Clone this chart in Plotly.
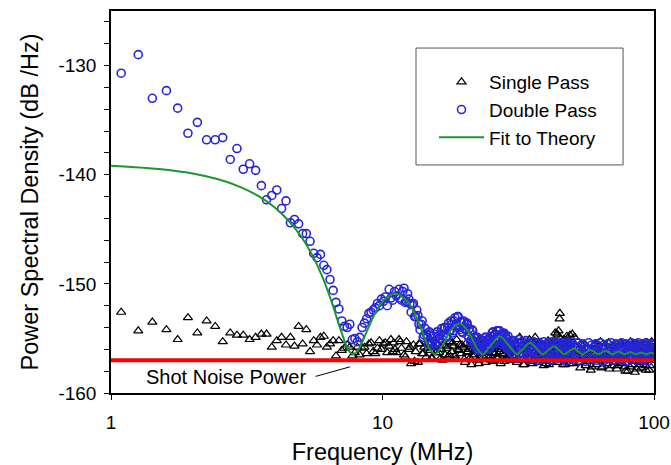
import math
import plotly.graph_objects as go

# ---------------- data ----------------
# Double pass (circles)
dp_freq_low = [1.09, 1.26, 1.42, 1.60, 1.76, 1.92, 2.08, 2.25, 2.42, 2.58,
               2.75, 2.91, 3.07, 3.24, 3.41, 3.58, 3.74, 3.91, 4.08, 4.25,
               4.41, 4.58, 4.74, 4.91, 5.08, 5.24, 5.41, 5.58, 5.74, 5.91,
               6.08, 6.24, 6.41, 6.58, 6.74, 6.91, 7.08, 7.24, 7.41, 7.58,
               7.74, 7.91, 8.08, 8.24, 8.41, 8.58, 8.74, 8.91, 9.08, 9.24,
               9.41, 9.58, 9.74, 9.91, 10.08, 10.24, 10.41, 10.58, 10.74, 10.91,
               11.08, 11.24]
dp_val_low = [-130.7, -129.0, -133.0, -132.3, -133.9, -136.2, -135.2, -136.8, -136.8, -136.6,
              -138.6, -137.6, -139.5, -139.0, -139.6, -141.0, -142.3, -141.9, -141.4, -143.1,
              -142.4, -144.4, -144.1, -144.5, -145.4, -145.4, -146.1, -147.2, -147.6, -147.3,
              -148.3, -148.7, -149.6, -150.6, -151.7, -152.3, -153.4, -153.9, -154.0, -153.7,
              -155.1, -155.0, -155.3, -154.9, -154.0, -153.6, -153.2, -152.7, -152.6, -152.4,
              -152.2, -151.8, -152.0, -151.4, -151.6, -151.2, -152.0, -150.5, -151.3, -151.5,
              -150.7, -151.1]

dp_freq_mid = [11.5, 11.75, 12.0, 12.25, 12.5, 12.75, 13.0, 13.25, 13.5, 13.75,
               14.0, 14.25, 14.5, 14.75, 15.0, 15.25, 15.5, 15.75, 16.0, 16.25,
               16.5, 16.75, 17.0, 17.25, 17.5, 17.75, 18.0, 18.25, 18.5, 18.75,
               19.0, 19.25, 19.5, 19.75, 20.0, 20.25, 20.5, 20.75, 21.0, 21.25,
               21.5, 21.75, 22.0, 22.25, 22.5, 22.75, 23.0, 23.25, 23.5, 23.75,
               24.0, 24.25, 24.5, 24.75, 25.0, 25.25, 25.5, 25.75, 26.0, 26.25,
               26.5, 26.75, 27.0, 27.25, 27.5, 27.75, 28.0, 28.25, 28.5, 28.75,
               29.0, 29.25, 29.5, 29.75, 30.0]
dp_val_mid = [-150.5, -151.5, -150.4, -151.6, -151.4, -152.6, -151.8, -153.0, -152.9, -154.2,
              -153.4, -154.7, -154.6, -155.5, -154.6, -155.4, -154.6, -155.7, -154.8, -155.4,
              -154.1, -154.7, -154.0, -154.9, -153.6, -154.3, -153.7, -154.3, -153.1, -153.9,
              -153.0, -154.2, -153.5, -154.5, -153.5, -154.2, -153.6, -154.9, -154.4, -155.1,
              -154.3, -155.6, -154.9, -156.0, -155.3, -155.9, -155.1, -156.2, -155.2, -155.8,
              -154.9, -155.9, -155.2, -155.9, -154.8, -155.4, -154.4, -155.5, -154.6, -155.1,
              -154.3, -155.2, -154.3, -155.5, -154.7, -155.1, -154.5, -155.7, -154.9, -155.7,
              -154.8, -156.0, -155.4, -156.3, -155.3]

dp_freq_mid2 = [11.625, 11.875, 12.125, 12.375, 12.625, 12.875, 13.125, 13.375, 13.625, 13.875,
                14.125, 14.375, 14.625, 14.875, 15.125, 15.375, 15.625, 15.875, 16.125, 16.375,
                16.625, 16.875, 17.125, 17.375, 17.625, 17.875, 18.125, 18.375, 18.625, 18.875,
                19.125, 19.375, 19.625, 19.875, 20.125, 20.375, 20.625, 20.875, 21.125, 21.375,
                21.625, 21.875, 22.125, 22.375, 22.625, 22.875, 23.125, 23.375, 23.625, 23.875,
                24.125, 24.375, 24.625, 24.875, 25.125, 25.375, 25.625, 25.875, 26.125, 26.375,
                26.625, 26.875, 27.125, 27.375, 27.625, 27.875, 28.125, 28.375, 28.625, 28.875,
                29.125, 29.375, 29.625, 29.875]
dp_val_mid2 = [-151.3, -150.7, -151.7, -150.9, -151.8, -151.9, -153.0, -152.4, -153.7, -153.7,
               -154.9, -154.1, -154.9, -154.4, -155.6, -154.8, -155.5, -154.4, -155.0, -154.6,
               -155.1, -154.0, -154.8, -154.0, -154.3, -153.4, -154.5, -153.4, -153.8, -153.0,
               -154.0, -153.5, -154.4, -153.4, -154.1, -153.7, -154.7, -154.1, -155.3, -154.2,
               -155.2, -155.0, -155.7, -154.9, -156.1, -155.4, -155.9, -155.2, -156.1, -154.9,
               -155.6, -155.1, -156.0, -155.0, -155.5, -154.5, -155.5, -154.7, -155.0, -154.3,
               -155.2, -154.3, -155.0, -154.6, -155.6, -154.6, -155.2, -154.7, -155.9, -155.1,
               -155.9, -155.5, -156.1, -155.5]

dp_freq_high1 = [30.25, 30.5, 30.75, 31.0, 31.25, 31.5, 31.75, 32.0, 32.25, 32.5,
                 32.75, 33.0, 33.25, 33.5, 33.75, 34.0, 34.25, 34.5, 34.75, 35.0,
                 35.25, 35.5, 35.75, 36.0, 36.25, 36.5, 36.75, 37.0, 37.25, 37.5,
                 37.75, 38.0, 38.25, 38.5, 38.75, 39.0, 39.25, 39.5, 39.75, 40.0,
                 40.25, 40.5, 40.75, 41.0, 41.25, 41.5, 41.75, 42.0, 42.25, 42.5,
                 42.75, 43.0, 43.25, 43.5, 43.75, 44.0, 44.25, 44.5, 44.75, 45.0,
                 45.25, 45.5, 45.75, 46.0, 46.25, 46.5, 46.75, 47.0, 47.25, 47.5,
                 47.75, 48.0, 48.25, 48.5, 48.75, 49.0, 49.25, 49.5, 49.75, 50.0]
dp_val_high1 = [-155.2, -156.5, -155.7, -156.8, -155.4, -156.1, -155.1, -156.6, -155.8, -156.3,
                -155.3, -156.7, -155.6, -156.0, -155.2, -156.4, -155.5, -156.9, -155.9, -155.4,
                -156.6, -155.7, -156.2, -155.3, -156.8, -155.6, -156.4, -155.5, -157.0, -156.0,
                -155.4, -156.5, -155.8, -156.9, -155.6, -156.2, -155.3, -156.7, -155.9, -156.4,
                -155.5, -156.8, -155.7, -156.3, -155.4, -157.0, -155.9, -156.5, -155.3, -156.6,
                -155.8, -156.2, -155.5, -156.9, -155.6, -156.4, -155.3, -156.7, -156.0, -155.5,
                -156.8, -155.7, -156.3, -155.4, -156.9, -155.8, -156.5, -155.6, -157.1, -156.1,
                -155.4, -156.6, -155.7, -156.2, -155.5, -156.8, -155.9, -156.4, -155.3, -156.7]

dp_freq_high2 = [50.5, 51.0, 51.5, 52.0, 52.5, 53.0, 53.5, 54.0, 54.5, 55.0,
                 55.5, 56.0, 56.5, 57.0, 57.5, 58.0, 58.5, 59.0, 59.5, 60.0,
                 60.5, 61.0, 61.5, 62.0, 62.5, 63.0, 63.5, 64.0, 64.5, 65.0,
                 65.5, 66.0, 66.5, 67.0, 67.5, 68.0, 68.5, 69.0, 69.5, 70.0,
                 70.5, 71.0, 71.5, 72.0, 72.5, 73.0, 73.5, 74.0, 74.5, 75.0,
                 75.5, 76.0, 76.5, 77.0, 77.5, 78.0, 78.5, 79.0, 79.5, 80.0,
                 80.5, 81.0, 81.5, 82.0, 82.5, 83.0, 83.5, 84.0, 84.5, 85.0,
                 85.5, 86.0, 86.5, 87.0, 87.5, 88.0, 88.5, 89.0, 89.5, 90.0,
                 90.5, 91.0, 91.5, 92.0, 92.5, 93.0, 93.5, 94.0, 94.5, 95.0,
                 95.5, 96.0, 96.5, 97.0, 97.5, 98.0, 98.5, 99.0, 99.5, 100.0]
dp_val_high2 = [-155.6, -156.9, -155.8, -156.4, -155.4, -157.0, -156.0, -156.6, -155.5, -156.3,
                -155.7, -157.1, -155.9, -156.5, -155.4, -156.8, -156.1, -155.6, -156.9, -155.8,
                -156.4, -155.5, -157.0, -156.2, -155.7, -156.7, -155.4, -156.3, -155.9, -157.1,
                -155.6, -156.5, -155.8, -156.9, -155.5, -156.2, -156.0, -156.8, -155.4, -156.6,
                -155.7, -157.0, -155.9, -156.4, -155.5, -156.8, -156.1, -155.6, -156.9, -155.8,
                -156.5, -155.4, -157.0, -156.0, -155.7, -156.7, -155.5, -156.3, -155.9, -157.1,
                -155.6, -156.6, -155.8, -156.9, -155.4, -156.2, -156.0, -156.8, -155.5, -156.5,
                -155.7, -157.0, -155.9, -156.4, -155.4, -156.8, -156.1, -155.6, -156.9, -155.8,
                -156.3, -155.5, -157.0, -156.2, -155.7, -156.6, -155.4, -156.4, -155.9, -157.1,
                -155.6, -156.5, -155.8, -156.8, -155.5, -156.3, -156.0, -156.7, -155.6, -156.4]

# Single pass (triangles)
sp_freq_low = [1.09, 1.26, 1.42, 1.60, 1.76, 1.92, 2.08, 2.25, 2.42, 2.58,
               2.75, 2.91, 3.07, 3.24, 3.41, 3.58, 3.74, 3.91, 4.08, 4.25,
               4.41, 4.58, 4.74, 4.91, 5.08, 5.24, 5.41, 5.58, 5.74, 5.91,
               6.08, 6.24, 6.41, 6.58, 6.74, 6.91, 7.08, 7.24, 7.41, 7.58,
               7.74, 7.91, 8.08, 8.24, 8.41, 8.58, 8.74, 8.91, 9.08, 9.24,
               9.41, 9.58, 9.74, 9.91, 10.08, 10.24, 10.41, 10.58, 10.74, 10.91]
sp_val_low = [-152.6, -154.3, -153.5, -154.2, -155.1, -153.1, -154.5, -153.4, -153.9, -155.3,
              -154.5, -154.7, -154.7, -155.1, -154.9, -154.6, -154.6, -155.8, -155.2, -154.9,
              -155.6, -154.9, -155.7, -153.9, -155.5, -154.2, -156.2, -155.2, -155.6, -154.9,
              -154.8, -155.8, -155.5, -155.2, -156.6, -155.2, -156.1, -155.9, -155.6, -155.8,
              -156.6, -156.3, -155.8, -156.5, -155.9, -155.8, -156.4, -155.5, -155.4, -156.2,
              -156.4, -155.9, -155.2, -156.0, -155.5, -155.4, -156.3, -155.7, -155.1, -156.2]

sp_freq_mid = [11.0, 11.25, 11.5, 11.75, 12.0, 12.25, 12.5, 12.75, 13.0, 13.25,
               13.5, 13.75, 14.0, 14.25, 14.5, 14.75, 15.0, 15.25, 15.5, 15.75,
               16.0, 16.25, 16.5, 16.75, 17.0, 17.25, 17.5, 17.75, 18.0, 18.25,
               18.5, 18.75, 19.0, 19.25, 19.5, 19.75, 20.0, 20.25, 20.5, 20.75,
               21.0, 21.25, 21.5, 21.75, 22.0, 22.25, 22.5, 22.75, 23.0, 23.25,
               23.5, 23.75, 24.0, 24.25, 24.5, 24.75, 25.0, 25.25, 25.5, 25.75,
               26.0, 26.25, 26.5, 26.75, 27.0, 27.25, 27.5, 27.75, 28.0, 28.25,
               28.5, 28.75, 29.0, 29.25, 29.5, 29.75, 30.0]
sp_val_mid = [-155.4, -156.3, -155.1, -155.9, -156.5, -155.3, -156.0, -157.3, -155.6, -156.2,
              -157.2, -155.5, -156.4, -155.8, -156.7, -155.4, -156.1, -156.8, -155.7, -156.3,
              -155.5, -156.9, -156.0, -155.6, -156.5, -155.9, -156.7, -155.3, -156.2, -155.7,
              -156.6, -155.1, -156.0, -155.6, -156.4, -155.8, -156.9, -155.5, -156.3, -156.0,
              -156.8, -157.4, -155.9, -156.5, -155.6, -156.2, -157.0, -155.8, -156.4, -155.5,
              -156.7, -156.1, -157.2, -155.9, -156.3, -155.4, -156.6, -156.0, -157.1, -155.7,
              -156.4, -155.8, -156.9, -155.5, -156.2, -157.3, -156.0, -155.6, -156.5, -155.9,
              -156.8, -156.1, -155.4, -156.6, -157.0, -155.8, -156.3]

sp_freq_mid2 = [11.125, 11.625, 12.125, 12.625, 13.125, 13.625, 14.125, 14.625, 15.125, 15.625,
                16.125, 16.625, 17.125, 17.625, 18.125, 18.625, 19.125, 19.625, 20.125, 20.625,
                21.125, 21.625, 22.125, 22.625, 23.125, 23.625, 24.125, 24.625, 25.125, 25.625,
                26.125, 26.625, 27.125, 27.625, 28.125, 28.625, 29.125, 29.625]
sp_val_mid2 = [-156.0, -155.3, -156.7, -155.8, -157.1, -155.5, -156.4, -155.9, -156.8, -155.2,
               -156.3, -157.0, -155.7, -156.5, -155.4, -156.9, -156.1, -155.6, -157.2, -156.2,
               -155.5, -156.7, -155.9, -157.3, -156.0, -155.4, -156.6, -155.8, -157.0, -156.3,
               -155.6, -156.8, -155.3, -156.4, -157.1, -155.9, -156.5, -155.7]

sp_freq_high = [30.5, 31.0, 31.5, 32.0, 32.5, 33.0, 33.5, 34.0, 34.5, 35.0,
                35.5, 36.0, 36.5, 37.0, 37.5, 38.0, 38.5, 39.0, 39.5, 40.0,
                40.5, 41.0, 41.5, 42.0, 42.5, 43.0, 43.5, 44.0, 44.5, 44.9,
                45.0, 45.5, 46.0, 46.5, 47.0, 47.5, 48.0, 48.5, 49.0, 49.5,
                50.0, 51, 52, 53, 54, 55, 56, 57, 58, 59,
                60, 61, 62, 63, 64, 65, 66, 67, 68, 69,
                70, 71, 72, 73, 74, 75, 76, 77, 78, 79,
                80, 81, 82, 83, 84, 85, 86, 87, 88, 89,
                90, 91, 92, 93, 94, 95, 96, 97, 98, 99, 100]
sp_val_high = [-156.2, -157.0, -155.6, -154.9, -156.5, -157.4, -156.0, -155.5, -156.8, -156.3,
               -157.1, -155.4, -154.9, -156.6, -157.2, -156.0, -155.7, -156.9, -156.3, -157.3,
               -155.8, -157.4, -156.4, -155.6, -156.7, -155.2, -156.1, -154.6, -154.3, -153.2,
               -152.7, -155.4, -156.5, -155.1, -157.4, -156.2, -155.5, -156.8, -154.7, -156.0,
               -154.6, -154.9, -156.7, -157.2, -155.6, -156.3, -157.5, -155.9, -156.8, -157.6,
               -156.1, -155.5, -157.0, -156.4, -157.7, -155.8, -156.6, -157.3, -155.4, -156.9,
               -157.5, -156.2, -155.7, -157.8, -156.5, -157.1, -155.6, -156.8, -157.6, -156.0,
               -158.0, -156.7, -155.3, -157.4, -156.3, -158.1, -156.9, -155.5, -157.2, -156.5,
               -157.7, -155.9, -156.8, -157.5, -155.4, -156.6, -157.9, -156.1, -155.3, -157.0, -156.4]

sp_freq_high2 = [30.25, 30.75, 31.25, 31.75, 32.25, 32.75, 33.25, 33.75, 34.25, 34.75,
                 35.25, 35.75, 36.25, 36.75, 37.25, 37.75, 38.25, 38.75, 39.25, 39.75,
                 40.25, 40.75, 41.25, 41.75, 42.25, 42.75, 43.25, 43.75, 44.25, 44.75,
                 45.25, 45.75, 46.25, 46.75, 47.25, 47.75, 48.25, 48.75, 49.25, 49.75,
                 50.5, 51.5, 52.5, 53.5, 54.5, 55.5, 56.5, 57.5, 58.5, 59.5,
                 60.5, 61.5, 62.5, 63.5, 64.5, 65.5, 66.5, 67.5, 68.5, 69.5,
                 70.5, 71.5, 72.5, 73.5, 74.5, 75.5, 76.5, 77.5, 78.5, 79.5,
                 80.5, 81.5, 82.5, 83.5, 84.5, 85.5, 86.5, 87.5, 88.5, 89.5,
                 90.5, 91.5, 92.5, 93.5, 94.5, 95.5, 96.5, 97.5, 98.5, 99.5]
sp_val_high2 = [-156.6, -155.5, -157.2, -156.0, -155.3, -156.9, -157.4, -155.8, -156.4, -155.1,
                -156.7, -157.3, -156.1, -155.6, -157.0, -156.3, -155.4, -156.8, -157.5, -155.9,
                -156.5, -155.2, -157.1, -156.2, -155.7, -156.9, -154.5, -155.8, -157.2, -156.4,
                -155.0, -156.6, -157.4, -155.5, -156.1, -154.8, -156.9, -157.3, -155.6, -156.2,
                -157.3, -155.8, -156.9, -157.7, -156.2, -155.5, -157.1, -156.6, -157.9, -156.0,
                -155.6, -157.4, -156.8, -155.3, -157.6, -156.4, -157.0, -155.9, -157.8, -156.5,
                -155.7, -157.2, -156.1, -157.5, -156.9, -155.4, -157.3, -156.6, -158.0, -156.2,
                -155.8, -157.6, -156.7, -157.1, -155.5, -156.3, -157.8, -156.0, -157.4, -156.8,
                -155.6, -157.2, -156.5, -157.9, -156.1, -155.9, -157.5, -156.7, -157.0, -156.3]

# Fit to theory (green curve)
fit_freq = [1.0, 1.5, 2.0, 2.5, 3.0, 3.5, 4.0, 4.5, 5.0, 5.5,
            6.0, 6.5, 7.0, 7.4, 7.6, 7.8, 8.2, 8.58, 9.36, 10.14,
            11.15, 12.48, 13.65, 14.82, 15.6, 16.77, 17.94, 19.19, 20.67, 22.23,
            23.4, 24.96, 27.07, 29.25, 31.2, 32.76, 34.94, 37.05, 39.0, 40.95,
            42.9, 44.85, 46.8, 48.75, 50.7, 52.65, 54.6, 56.55, 58.5, 60.45,
            62.4, 64.35, 66.3, 68.25, 70.2, 72.15, 74.1, 76.05, 78.0, 79.95,
            81.9, 83.85, 85.8, 87.75, 89.7, 91.65, 93.6, 95.55, 97.5, 100.0]
fit_val = [-139.18, -139.48, -139.89, -140.44, -141.13, -141.97, -142.98, -144.19, -145.62, -147.32,
           -149.33, -151.66, -154.16, -155.81, -156.29, -156.46, -155.93, -154.87, -152.76, -151.45,
           -150.88, -151.72, -153.64, -155.86, -156.46, -155.49, -154.17, -153.64, -154.33, -155.88,
           -156.46, -155.71, -154.81, -155.67, -156.46, -156.01, -155.39, -155.95, -156.46, -156.04,
           -155.72, -156.11, -156.46, -156.16, -155.92, -156.20, -156.46, -156.23, -156.05, -156.26,
           -156.46, -156.29, -156.14, -156.29, -156.46, -156.33, -156.20, -156.33, -156.46, -156.35,
           -156.24, -156.35, -156.46, -156.37, -156.28, -156.37, -156.46, -156.38, -156.31, -156.42]

# Shot noise level (red line)
shot_freq = [1, 100]
shot_val = [-157.0, -157.0]

y_ticks = [-160, -150, -140, -130]
y_ticktext = ["-160", "-150", "-140", "-130"]
x_ticks = [1, 10, 100]
x_ticktext = ["1", "10", "100"]

for a, b in [(dp_freq_low, dp_val_low), (dp_freq_mid, dp_val_mid), (dp_freq_mid2, dp_val_mid2),
             (dp_freq_high1, dp_val_high1), (dp_freq_high2, dp_val_high2),
             (sp_freq_low, sp_val_low), (sp_freq_mid, sp_val_mid), (sp_freq_mid2, sp_val_mid2),
             (sp_freq_high, sp_val_high), (sp_freq_high2, sp_val_high2),
             (fit_freq, fit_val)]:
    assert len(a) == len(b), (len(a), len(b))

dp_freq = dp_freq_low + dp_freq_mid + dp_freq_mid2 + dp_freq_high1 + dp_freq_high2
dp_val = dp_val_low + dp_val_mid + dp_val_mid2 + dp_val_high1 + dp_val_high2
sp_freq = sp_freq_low + sp_freq_mid + sp_freq_mid2 + sp_freq_high + sp_freq_high2
sp_val = sp_val_low + sp_val_mid + sp_val_mid2 + sp_val_high + sp_val_high2

FONT = "Liberation Sans, Arial, sans-serif"

fig = go.Figure()
fig.add_trace(go.Scatter(
    x=sp_freq, y=sp_val, mode="markers", name="Single Pass",
    marker=dict(symbol="triangle-up-open", size=8, color="black", line=dict(width=1.2))))
fig.add_trace(go.Scatter(
    x=dp_freq, y=dp_val, mode="markers", name="Double Pass",
    marker=dict(symbol="circle-open", size=8, color="#2626d6", line=dict(width=1.6))))
fig.add_trace(go.Scatter(
    x=fit_freq, y=fit_val, mode="lines", name="Fit to Theory",
    line=dict(color="#1e962e", width=2, shape="spline", smoothing=0.8)))
fig.add_trace(go.Scatter(
    x=shot_freq, y=shot_val, mode="lines", showlegend=False, hoverinfo="skip",
    line=dict(color="#ff0000", width=4)))

fig.add_annotation(x=math.log10(2.66), y=-158.55, text="Shot Noise Power", showarrow=False,
                   font=dict(family=FONT, size=20, color="black"))
fig.add_annotation(x=math.log10(7.6), y=-157.6, text="", showarrow=True, arrowhead=0,
                   arrowwidth=1, arrowcolor="black", ax=-36, ay=10, standoff=0, startstandoff=0)

fig.add_shape(type="rect", xref="paper", yref="paper", x0=0.5617, x1=0.943, y0=0.597, y1=0.903,
              line=dict(color="#555555", width=1), fillcolor="rgba(0,0,0,0)")

fig.update_layout(
    width=671, height=465,
    margin=dict(l=111, r=17, t=11, b=72),
    paper_bgcolor="white", plot_bgcolor="white",
    font=dict(family=FONT, size=18, color="black"),
    showlegend=True,
    legend=dict(x=(434 - 111) / 543, y=(393 - 63) / 382, xanchor="left", yanchor="top",
                bgcolor="rgba(0,0,0,0)", borderwidth=0, font=dict(family=FONT, size=19),
                itemwidth=45, tracegroupgap=0),
    xaxis=dict(type="log", range=[0, 2], tickvals=x_ticks, ticktext=x_ticktext,
               ticks="outside", ticklen=5, tickwidth=1.2, tickcolor="black",
               showline=True, linewidth=1.5, linecolor="black", mirror=True,
               showgrid=False, zeroline=False, tickfont=dict(size=19),
               ticklabelstandoff=6, automargin=False,
               title=dict(text="Frequency (MHz)", font=dict(size=23.5), standoff=25)),
    yaxis=dict(range=[-160, -125], tickvals=y_ticks, ticktext=y_ticktext,
               ticks="outside", ticklen=5, tickwidth=1.2, tickcolor="black",
               minor=dict(dtick=2, tick0=-160, ticks="outside", ticklen=5, tickwidth=1.2,
                          tickcolor="black", showgrid=False),
               showline=True, linewidth=1.5, linecolor="black", mirror=True,
               showgrid=False, zeroline=False, tickfont=dict(size=19),
               ticklabelstandoff=4, automargin=False,
               title=dict(text="Power Spectral Density (dB /Hz)", font=dict(size=23.5), standoff=13)),
)

fig.write_html("out.html", config={"displayModeBar": False},
               post_script="document.body.style.margin='0px';")
